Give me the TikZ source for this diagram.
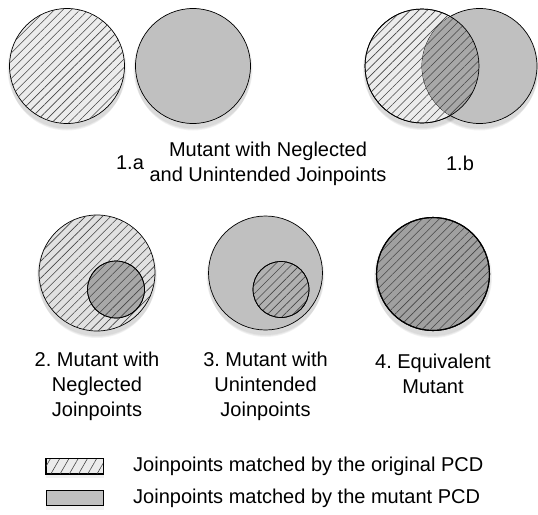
\documentclass[tikz,border=0pt]{standalone}
\usepackage{fontspec}
\setmainfont{Liberation Sans}
\frenchspacing
\usetikzlibrary{patterns.meta}
\definecolor{mgray}{RGB}{192,192,192}
\definecolor{lgray}{RGB}{236,236,236}
\definecolor{dgray}{RGB}{168,168,168}
\definecolor{hcol}{RGB}{70,70,70}
\tikzset{
  hatch/.style={pattern={Lines[angle=45,distance=6pt,line width=0.6pt]},pattern color=hcol},
  venn/.style={circle,inner sep=0pt,draw=black,line width=0.7pt},
  lbl/.style={font=\fontsize{20}{25}\selectfont,align=center,inner sep=0pt},
  shad/.style={fill=black,fill opacity=0.05,draw=none},
}
\begin{document}
\begin{tikzpicture}[x=1pt,y=-1pt]
\useasboundingbox (0,0) rectangle (538,514);
% shadows
\foreach \cx/\cy/\r in {67/66/57.5,193/66/57.5,422/66/57,479.5/66/57.5,97/273/58,265.5/273/57,433/274/57}{
  \fill[shad] (\cx,\cy+3) circle (\r+2);
  \fill[shad] (\cx,\cy+5) circle (\r+1);
  \fill[shad] (\cx,\cy+7) circle (\r);
}
% 1.a
\node[venn,minimum size=115pt,fill=lgray] (a1) at (67,66) {};
\fill[hatch] (a1.center) circle (57.5);
\node[venn,minimum size=115pt,fill=mgray] (a2) at (193,66) {};
% 1.b
\node[venn,minimum size=114pt,fill=lgray] (b1) at (422,66) {};
\fill[hatch] (b1.center) circle (57);
\node[venn,minimum size=115pt,fill=mgray] (b2) at (479.5,66) {};
\begin{scope}
  \clip (b1.center) circle (57);
  \fill[dgray] (b2.center) circle (57.5);
  \fill[hatch] (b2.center) circle (57.5);
\end{scope}
\draw[line width=0.7pt] (b1.center) circle (57);
% 2
\node[venn,minimum size=116pt,fill=lgray!90!gray] (c1) at (97,273) {};
\fill[hatch] (c1.center) circle (58);
\node[venn,minimum size=57pt,fill=dgray] (c2) at (116,289.5) {};
\fill[hatch] (c2.center) circle (28.5);
\draw[line width=0.7pt] (c2.center) circle (28.5);
% 3
\node[venn,minimum size=114pt,fill=mgray] (d1) at (265.5,273) {};
\node[venn,minimum size=56pt,fill=mgray!92!black] (d2) at (281,289.5) {};
\fill[hatch] (d2.center) circle (28);
\draw[line width=0.7pt] (d2.center) circle (28);
% 4
\node[venn,minimum size=113pt,fill=dgray!95!black,line width=1.1pt] (e1) at (433,274) {};
\fill[hatch] (e1.center) circle (56.5);
\draw[line width=1.1pt] (e1.center) circle (56.5);
% labels
\node[lbl] (t1a) at (130,163) {1.a};
\node[lbl] (t1b) at (460,163) {1.b};
\node[lbl] (t1) at (268,164) {Mutant with Neglected\\and Unintended Joinpoints};
\node[lbl] (t2) at (97,386) {2. Mutant with\\Neglected\\Joinpoints};
\node[lbl] (t3) at (265.5,386) {3. Mutant with\\Unintended\\Joinpoints};
\node[lbl] (t4) at (433,374) {4. Equivalent\\Mutant};
% legend
\fill[shad] (46,462) rectangle (104,478);
\node[draw=black,line width=0.7pt,fill=lgray,minimum width=57pt,minimum height=15pt,inner sep=0pt] (k1) at (74.5,466) {};
\fill[pattern={Lines[angle=60,distance=8pt,line width=0.6pt]},pattern color=hcol] (k1.south west) rectangle (k1.north east);
\draw[line width=0.7pt] (k1.south west) rectangle (k1.north east);
\fill[shad] (46,494) rectangle (104,510);
\node[draw=black,line width=0.7pt,fill=mgray,minimum width=57pt,minimum height=15pt,inner sep=0pt] (k2) at (74.5,498) {};
\node[lbl,anchor=west] (l1) at (133,466) {Joinpoints matched by the original PCD};
\node[lbl,anchor=west] (l2) at (133,498) {Joinpoints matched by the mutant PCD};
\end{tikzpicture}
\end{document}
